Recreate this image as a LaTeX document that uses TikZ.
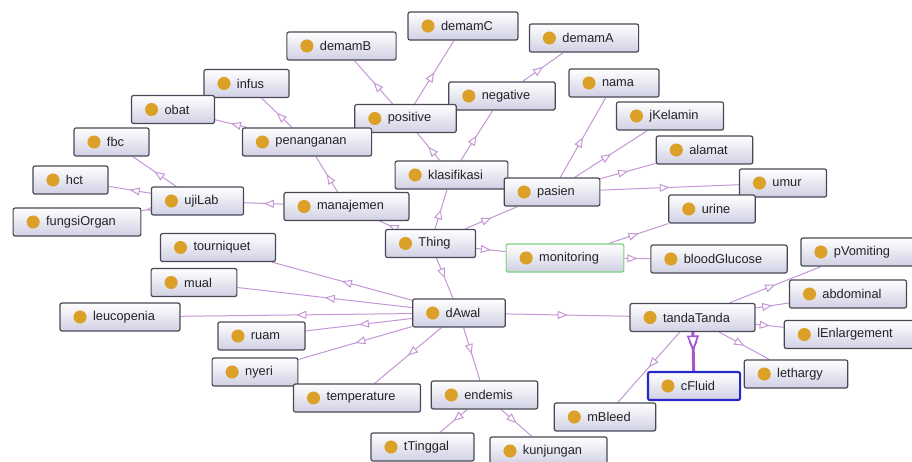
\documentclass[tikz,border=0pt]{standalone}
\usepackage{fontspec}
\setmainfont{Liberation Sans}
\usetikzlibrary{arrows.meta}
\usetikzlibrary{decorations.markings}
\pgfdeclarelayer{bg}
\pgfsetlayers{bg,main}
\definecolor{edgec}{RGB}{196,150,214}
\definecolor{edgek}{RGB}{165,85,205}
\definecolor{dotc}{RGB}{218,160,40}
\definecolor{boxline}{RGB}{72,72,84}
\definecolor{boxbot}{RGB}{208,208,228}
\definecolor{txtc}{RGB}{34,34,40}
\definecolor{selg}{RGB}{125,210,125}
\definecolor{selb}{RGB}{40,40,200}

\begin{document}
\begin{tikzpicture}[x=0.75pt,y=-0.75pt,
    cls/.style={draw=boxline, line width=0.9pt, rounded corners=1.5pt,
      top color=white, bottom color=boxbot, minimum height=21pt,
      inner xsep=0pt, inner ysep=0pt, text=txtc, font=\fontsize{9.6}{11}\selectfont,
      path picture={\fill[dotc] ([xshift=15pt]path picture bounding box.west) circle (4.9pt);},
      execute at begin node=\hspace*{24.75pt},
      execute at end node=\hspace*{18.75pt}},
    isa/.style={color=edgec, line width=0.75pt, postaction={decorate},
      decoration={markings, mark=at position 0.5 with
        {\arrow{Triangle[open, fill=white, length=7.5pt, width=6pt]}}}},
    isak/.style={isa, color=edgek, line width=2.2pt,
      decoration={markings, mark=at position 0.5 with
        {\arrow{Triangle[open, fill=white, length=12pt, width=9pt, line width=1.2pt]}}}}]
  \useasboundingbox (0,0) rectangle (912,461);
  \clip (0,0) rectangle (912,461);

  % classes
  \node[cls] (Thing) at (430.5,243.5) {Thing};
  \node[cls] (klasifikasi) at (451.5,175) {klasifikasi};
  \node[cls] (negative) at (502,96) {negative};
  \node[cls] (positive) at (405.5,118.5) {positive};
  \node[cls] (demamB) at (341.5,46) {demamB};
  \node[cls] (demamC) at (463,26) {demamC};
  \node[cls] (demamA) at (584,38) {demamA};
  \node[cls] (manajemen) at (346.5,206.5) {manajemen};
  \node[cls] (penanganan) at (307,142) {penanganan};
  \node[cls] (infus) at (246.5,83.5) {infus};
  \node[cls] (obat) at (173,109.5) {obat};
  \node[cls] (ujiLab) at (197.5,201) {ujiLab};
  \node[cls] (fbc) at (111.5,142) {fbc};
  \node[cls] (hct) at (70.5,180) {hct};
  \node[cls] (fungsiOrgan) at (77,222) {fungsiOrgan};
  \node[cls] (pasien) at (552,192) {pasien};
  \node[cls] (nama) at (614,83) {nama};
  \node[cls] (jKelamin) at (670,116) {jKelamin};
  \node[cls] (alamat) at (704.5,150) {alamat};
  \node[cls] (umur) at (783,183) {umur};
  \node[cls] (urine) at (712,209) {urine};
  \node[cls, draw=selg] (monitoring) at (565,258) {monitoring};
  \node[cls] (bloodGlucose) at (719,259) {bloodGlucose};
  \node[cls] (dAwal) at (459,313) {dAwal};
  \node[cls] (tourniquet) at (218,247.5) {tourniquet};
  \node[cls] (mual) at (194,282.5) {mual};
  \node[cls] (leucopenia) at (120,317) {leucopenia};
  \node[cls] (ruam) at (261.5,336) {ruam};
  \node[cls] (nyeri) at (255,372) {nyeri};
  \node[cls] (temperature) at (357,398) {temperature};
  \node[cls] (endemis) at (484.5,395) {endemis};
  \node[cls] (tTinggal) at (422.5,447) {tTinggal};
  \node[cls] (kunjungan) at (548.5,451) {kunjungan};
  \node[cls] (tandaTanda) at (692.5,317.5) {tandaTanda};
  \node[cls] (pVomiting) at (858,252) {pVomiting};
  \node[cls] (abdominal) at (848,294) {abdominal};
  \node[cls] (lEnlargement) at (851,334.5) {lEnlargement};
  \node[cls] (lethargy) at (796,374) {lethargy};
  \node[cls, draw=selb, line width=1.6pt] (cFluid) at (694,386) {cFluid};
  \node[cls] (mBleed) at (605,417) {mBleed};

  % subclass links
  \begin{pgfonlayer}{bg}
    \foreach \p/\c in {Thing/klasifikasi, Thing/manajemen, Thing/pasien,
        Thing/monitoring, Thing/dAwal,
        klasifikasi/positive, klasifikasi/negative,
        positive/demamB, positive/demamC, negative/demamA,
        manajemen/penanganan, manajemen/ujiLab,
        penanganan/infus, penanganan/obat,
        ujiLab/fbc, ujiLab/hct, ujiLab/fungsiOrgan,
        pasien/nama, pasien/jKelamin, pasien/alamat, pasien/umur,
        monitoring/urine, monitoring/bloodGlucose,
        dAwal/tourniquet, dAwal/mual, dAwal/leucopenia, dAwal/ruam,
        dAwal/nyeri, dAwal/temperature, dAwal/endemis, dAwal/tandaTanda,
        endemis/tTinggal, endemis/kunjungan,
        tandaTanda/pVomiting, tandaTanda/abdominal, tandaTanda/lEnlargement,
        tandaTanda/lethargy, tandaTanda/mBleed}
      \draw[isa] (\p) -- (\c);
    \draw[isak] (tandaTanda) -- (cFluid);
  \end{pgfonlayer}
\end{tikzpicture}
\end{document}
